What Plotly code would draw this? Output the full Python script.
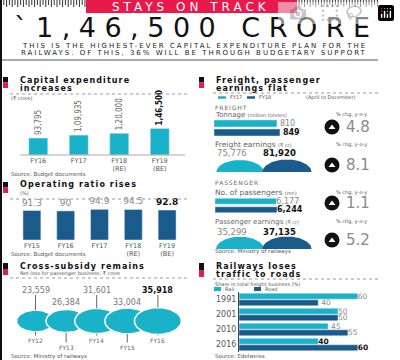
import numpy as np
import plotly.graph_objects as go

W, H = 400, 360
LIGHT = "#1ab2c8"
DARK = "#1b5b8c"
RED = "#e8194b"
MID = "#555555"
FONT = "DejaVu Sans"
COND = "DejaVu Sans Condensed, DejaVu Sans"

# ---------------- data ----------------
capex_cats = ["FY16", "FY17", "FY18<br>(RE)", "FY19<br>(BE)"]
capex_vals = [93795, 109935, 120000, 146500]
capex_text = ["93,795", "1,09,935", "1,20,000", "<b>1,46,500</b>"]

opr_cats = ["FY15", "FY16", "FY17", "FY18<br>(RE)", "FY19<br>(BE)"]
opr_vals = [91.3, 90, 94.9, 94.5, 92.8]
opr_text = ["91.3", "90", "94.9", "94.5", "<b>92.8</b>"]

xsub_years = ["FY12", "FY13", "FY14", "FY15", "FY16"]
xsub_vals = [23559, 26384, 31601, 33004, 35918]
xsub_text = ["23,559", "26,384", "31,601", "33,004", "<b>35,918</b>"]

fr_years = ["FY17", "FY18"]
tonnage = [810, 849]
tonnage_text = ["810", "<b>849</b>"]
freight_earn = [75776, 81920]
freight_earn_text = ["75,776", "<b>81,920</b>"]
passengers = [6177, 6244]
passengers_text = ["6,177", "<b>6,244</b>"]
pass_earn = [35299, 37135]
pass_earn_text = ["35,299", "<b>37,135</b>"]
chg_vals = [4.8, 8.1, 1.1, 5.2]

share_years = ["1991", "2001", "2010", "2016"]
rail_share = [60, 50, 45, 40]
road_share = [40, 50, 55, 60]
rail_text = ["60", "50", "45", "<b>40</b>"]
road_text = ["40", "50", "55", "<b>60</b>"]

# ---------------- helpers ----------------
def px(x): return x / W
def py(y): return 1 - y / H
def dx(a, b): return [a / W, b / W]
def dy(top, bottom): return [1 - bottom / H, 1 - top / H]

ann, shp = [], []

def text(x, y, s, size=6, color=MID, anchor="left", family=FONT, ls=None):
    if ls is not None:
        s = f"<span style='letter-spacing:{ls}px'>{s}</span>"
    ann.append(dict(x=px(x), y=py(y), xref="paper", yref="paper", text=s,
                    showarrow=False, xanchor=anchor, yanchor="middle",
                    font=dict(size=size, color=color, family=family), borderpad=0))

def rect(x0, y0, x1, y1, color):
    shp.append(dict(type="rect", xref="paper", yref="paper", x0=px(x0), x1=px(x1),
                    y0=py(y0), y1=py(y1), fillcolor=color, line=dict(width=0)))

def line(x0, y0, x1, y1, color=MID, width=1, dash="solid"):
    shp.append(dict(type="line", xref="paper", yref="paper", x0=px(x0), x1=px(x1),
                    y0=py(y0), y1=py(y1), line=dict(color=color, width=width, dash=dash)))

fig = go.Figure()

# ---------------- capex bars ----------------
fig.add_trace(go.Bar(x=capex_cats, y=capex_vals, width=0.47, marker_color=LIGHT,
                     text=capex_text, textposition="outside", textangle=-90,
                     constraintext="none", cliponaxis=False,
                     textfont=dict(size=8, family=COND, color=["#666", "#666", "#666", "#111"]),
                     xaxis="x", yaxis="y"))

# ---------------- operating ratio ----------------
fig.add_trace(go.Bar(x=opr_cats, y=opr_vals, width=0.53, marker_color=DARK,
                     text=opr_text, textposition="outside", constraintext="none",
                     cliponaxis=False,
                     textfont=dict(size=9, family=FONT, color=["#888"] * 4 + ["#111"]),
                     xaxis="x2", yaxis="y2"))

# ---------------- cross-subsidy ellipses ----------------
XS = 30.6  # px per index unit on x3
t = np.linspace(0, 2 * np.pi, 80)
mx = max(xsub_vals)
for i, v in enumerate(xsub_vals):
    s = np.sqrt(v / mx)
    rx, ry = 23.5 * s, 13.5 * s
    fig.add_trace(go.Scatter(x=i + rx / XS * np.cos(t), y=ry * np.sin(t), mode="lines",
                             fill="toself", fillcolor=LIGHT, line=dict(color="white", width=1.5),
                             hoverinfo="skip", xaxis="x3", yaxis="y3"))
for i, v in enumerate(xsub_vals):
    s = np.sqrt(v / mx)
    ry = 13.5 * s
    if i % 2 == 0:
        lab_y, bot_y = 31, -19
        fig.add_trace(go.Scatter(x=[i, i], y=[ry, 26], mode="lines",
                                 line=dict(color="#666", width=1), hoverinfo="skip",
                                 xaxis="x3", yaxis="y3"))
        fig.add_trace(go.Scatter(x=[i, i], y=[-ry, -14.5], mode="lines",
                                 line=dict(color="#666", width=1), hoverinfo="skip",
                                 xaxis="x3", yaxis="y3"))
    else:
        lab_y, bot_y = 19, -26
        fig.add_trace(go.Scatter(x=[i, i], y=[-ry, -21.5], mode="lines",
                                 line=dict(color="#666", width=1), hoverinfo="skip",
                                 xaxis="x3", yaxis="y3"))
    ann.append(dict(x=i, y=lab_y, xref="x3", yref="y3", text=xsub_text[i], showarrow=False,
                    font=dict(size=8, family=FONT, color="#111" if i == 4 else "#777")))
    ann.append(dict(x=i, y=bot_y, xref="x3", yref="y3", text=xsub_years[i], showarrow=False,
                    font=dict(size=6, family=FONT, color="#666")))

# ---------------- freight / passenger bars ----------------
fig.add_trace(go.Bar(y=fr_years, x=tonnage, orientation="h", width=0.78,
                     marker_color=[LIGHT, DARK], text=tonnage_text, textposition="outside",
                     constraintext="none", cliponaxis=False,
                     textfont=dict(size=8, family=FONT, color=["#888", "#111"]),
                     xaxis="x4", yaxis="y4"))
fig.add_trace(go.Bar(y=fr_years, x=passengers, orientation="h", width=0.7,
                     marker_color=[LIGHT, DARK], text=passengers_text, textposition="outside",
                     constraintext="none", cliponaxis=False,
                     textfont=dict(size=8, family=FONT, color=["#888", "#111"]),
                     xaxis="x5", yaxis="y5"))

# ---------------- earnings half-ellipses ----------------
SX = 47.0
th = np.linspace(0, np.pi, 50)
for vals, labels, xa, ya, ly in [(freight_earn, freight_earn_text, "x6", "y6", 19),
                                 (pass_earn, pass_earn_text, "x7", "y7", 17.5)]:
    m = max(vals)
    for i, v in enumerate(vals):
        s = np.sqrt(v / m)
        rx, ry = 24.5 * s, 12.5 * s
        fig.add_trace(go.Scatter(x=np.r_[i + rx / SX * np.cos(th), i + rx / SX],
                                 y=np.r_[ry * np.sin(th), 0], mode="lines", fill="toself",
                                 fillcolor=[LIGHT, DARK][i], line=dict(width=0),
                                 hoverinfo="skip", xaxis=xa, yaxis=ya))
        ann.append(dict(x=i - 0.17, y=ly, xref=xa, yref=ya, text=labels[i], showarrow=False,
                        font=dict(size=8.5, family=FONT, color="#111" if i == 1 else "#888")))

# ---------------- railways vs roads ----------------
fig.add_trace(go.Bar(y=share_years, x=rail_share, orientation="h", width=0.4, offset=-0.42,
                     marker_color=LIGHT, text=rail_text, textposition="outside",
                     constraintext="none", cliponaxis=False,
                     textfont=dict(size=7.5, family=FONT, color=["#888"] * 3 + ["#111"]),
                     xaxis="x8", yaxis="y8"))
fig.add_trace(go.Bar(y=share_years, x=road_share, orientation="h", width=0.4, offset=0.02,
                     marker_color=DARK, text=road_text, textposition="outside",
                     constraintext="none", cliponaxis=False,
                     textfont=dict(size=7.5, family=FONT, color=["#888"] * 3 + ["#111"]),
                     xaxis="x8", yaxis="y8"))

# ---------------- change badges (overlay, pixel axis) ----------------
badge_y = [127, 165, 203, 240]
fig.add_trace(go.Scatter(x=[332] * 4, y=badge_y, mode="markers",
                         marker=dict(size=15, color="#111"), hoverinfo="skip",
                         xaxis="x9", yaxis="y9"))
fig.add_trace(go.Scatter(x=[332] * 4, y=[b + 0.5 for b in badge_y], mode="markers",
                         marker=dict(size=6, color="white", symbol="triangle-up"),
                         hoverinfo="skip", xaxis="x9", yaxis="y9"))
for b, v in zip(badge_y, chg_vals):
    ann.append(dict(x=344, y=b, xref="x9", yref="y9", text=f"{v:.1f}", showarrow=False,
                    xanchor="left", font=dict(size=15, family=FONT, color="#8a8a8a")))

# ---------------- header decoration ----------------
for k, xx in enumerate(np.arange(1, 86, 2.8)):
    line(xx, 0, xx, 7 if k % 2 == 0 else 5, color="#333", width=1)
for k, xx in enumerate(np.arange(299, 380, 2.8)):
    line(xx, 0, xx, 7 if k % 2 == 0 else 5, color="#333", width=1)
rect(86, 0, 297, 13, RED)
text(191, 7, "STAYS ON TRACK", size=12, color="white", anchor="center", ls=4)
text(196, 27.5, "`1,46,500 CRORE", size=27, color="#111", anchor="center", ls=8.5)
text(194, 45.5, "THIS IS THE HIGHEST-EVER CAPITAL EXPENDITURE PLAN FOR THE", size=7, color="#222", anchor="center", ls=2.0)
text(194, 52.5, "RAILWAYS. OF THIS, 36% WILL BE THROUGH BUDGETARY SUPPORT", size=7, color="#222", anchor="center", ls=2.0)
line(0, 60, 378, 60, color="#555", width=1)
line(1, 0, 1, 360, color="#111", width=2)

# section headers
def header(x, y0, y1, lines_):
    rect(x, y0, x + 5, (y0 + y1) / 2, "#111")
    rect(x, (y0 + y1) / 2, x + 5, y1, RED)
    for j, ln in enumerate(lines_):
        text(x + 16, y0 + 3 + 8 * j, f"<b>{ln}</b>", size=8, color="#111", ls=1.1)

header(3, 77, 88, ["Capital expenditure", "increases"])
text(10, 98, "(₹ crore)", size=5)
line(10, 94, 188, 94, color="#999", dash="dot")
line(20, 155, 185, 155, color="#aaa", width=1)
text(10, 174, "Source: Budget documents", size=5.5)

header(3, 182, 193, ["Operating ratio rises"])
text(19, 193, "(%)", size=5)
line(10, 199, 190, 199, color="#999", dash="dot")
text(10, 254, "Source: Budget documents", size=5.5)

header(3, 263, 275, ["Cross-subsidy remains"])
text(19, 273, "Net loss for passenger business, ₹ crore", size=5)
line(10, 278, 190, 278, color="#999", dash="dot")
text(10, 356, "Source: Ministry of railways", size=5.5)

header(199, 77, 88, ["Freight, passenger", "earnings flat"])
line(213, 93, 380, 93, color="#999", dash="dot")
line(218, 97.5, 226, 97.5, color=LIGHT, width=2.5)
text(229, 97.5, "FY17", size=5)
line(247, 97.5, 255, 97.5, color=DARK, width=2.5)
text(258, 97.5, "FY18", size=5)
text(305, 97.5, "(April to December)", size=5)
text(214, 107.5, "FREIGHT", size=6, color="#666", ls=0.9)
small = "<span style='font-size:5px'>{}</span>"
text(214, 115.5, "Tonnage " + small.format("(million tonnes)"), size=7, color="#666")
text(214, 144, "Freight earnings " + small.format("(₹ cr)"), size=7.5, color="#666")
text(214, 182.5, "PASSENGER", size=6, color="#666", ls=0.9)
text(214, 192, "No. of passengers " + small.format("(mn)"), size=7.5, color="#666")
text(214, 221.5, "Passenger earnings " + small.format("(₹ cr)"), size=7, color="#666")
for yy in [115, 144, 192, 221.5]:
    text(351, yy, "% chg, y-o-y", size=5, anchor="center")
text(214, 252, "Source: Ministry of railways", size=5.5)

header(199, 263, 277, ["Railways loses", "traffic to roads"])
line(213, 279, 380, 279, color="#999", dash="dot")
text(214, 284, "Share in total freight business (%)", size=5)
rect(214, 287, 221, 291, LIGHT)
text(224, 289, "Rail", size=5)
rect(254, 287, 261, 291, DARK)
text(264, 289, "Road", size=5)
text(214, 356, "Source: Edelweiss", size=5.5)

hidden = dict(visible=False, showgrid=False, zeroline=False, fixedrange=True)
tickfont = dict(size=6.5, color=MID, family=FONT)
fig.update_layout(
    width=W, height=H, margin=dict(l=0, r=0, t=0, b=0),
    paper_bgcolor="white", plot_bgcolor="rgba(0,0,0,0)", showlegend=False,
    barmode="overlay",
    xaxis=dict(domain=dx(18, 180), anchor="y", showgrid=False, zeroline=False,
               showline=False, ticks="", tickfont=tickfont, fixedrange=True),
    yaxis=dict(domain=dy(95, 155), anchor="x", range=[0, 60 / 0.000181], **hidden),
    xaxis2=dict(domain=dx(15, 184), anchor="y2", showgrid=False, zeroline=False,
                showline=False, ticks="", tickfont=tickfont, fixedrange=True),
    yaxis2=dict(domain=dy(200, 240), anchor="x2", range=[0, 40 / 0.323], **hidden),
    xaxis3=dict(domain=dx(5, 195), anchor="y3", range=[(5 - 35.5) / XS, (195 - 35.5) / XS], **hidden),
    yaxis3=dict(domain=dy(283, 352), anchor="x3", range=[-31, 38], **hidden),
    xaxis4=dict(domain=dx(214, 310), anchor="y4", range=[0, 96 / 0.0777], **hidden),
    yaxis4=dict(domain=dy(119, 137), anchor="x4", range=[1.5, -0.5], **hidden),
    xaxis5=dict(domain=dx(215, 311), anchor="y5", range=[0, 96 / 0.00993], **hidden),
    yaxis5=dict(domain=dy(197, 214), anchor="x5", range=[1.5, -0.5], **hidden),
    xaxis6=dict(domain=dx(208, 318), anchor="y6", range=[(208 - 240) / SX, (318 - 240) / SX], **hidden),
    yaxis6=dict(domain=dy(146, 172), anchor="x6", range=[0, 26], **hidden),
    xaxis7=dict(domain=dx(208, 318), anchor="y7", range=[(208 - 240) / SX, (318 - 240) / SX], **hidden),
    yaxis7=dict(domain=dy(223, 249), anchor="x7", range=[0, 26], **hidden),
    xaxis8=dict(domain=dx(239, 380), anchor="y8", range=[0, 141 / 1.98], **hidden),
    yaxis8=dict(domain=dy(292, 352), anchor="x8", range=[3.5, -0.5], showgrid=False,
                zeroline=False, showline=True, linecolor="#444", linewidth=1, ticks="",
                tickfont=dict(size=8, color=MID, family=FONT), fixedrange=True),
    xaxis9=dict(domain=[0, 1], anchor="y9", range=[0, W], **hidden),
    yaxis9=dict(domain=[0, 1], anchor="x9", range=[H, 0], **hidden),
    annotations=ann, shapes=shp,
)
fig.write_html("out.html", post_script="document.body.style.margin='0';")
